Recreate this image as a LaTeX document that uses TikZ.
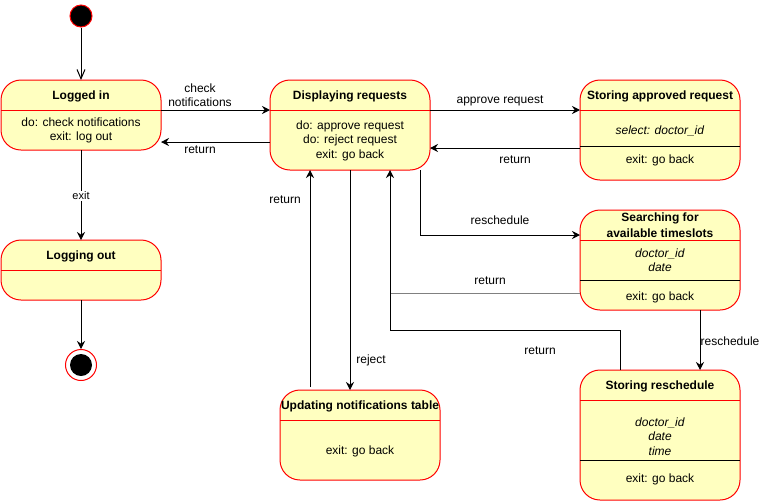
\documentclass[tikz,border=0pt]{standalone}
\usepackage{fontspec}
\setmainfont{Liberation Sans}
\usetikzlibrary{arrows.meta,calc}
\definecolor{stfill}{HTML}{FFFFC0}
\definecolor{linegray}{HTML}{808080}
\begin{document}
\begin{tikzpicture}[x=0.75pt,y=-0.75pt,
  state/.style={draw=red, fill=stfill, rounded corners=15pt, minimum width=120pt, inner sep=0pt, outer sep=0pt, line width=0.75pt},
  txt/.style={font=\fontsize{9}{10.9}\selectfont, align=center, inner sep=0pt},
  ttl/.style={font=\fontsize{9}{12}\selectfont\bfseries, align=center, inner sep=0pt},
  lbl/.style={font=\fontsize{9}{10.5}\selectfont, align=center, inner sep=0pt},
  hdiv/.style={draw=red, line width=0.75pt},
  sdiv/.style={draw=black, line width=0.75pt},
  arr/.style={draw=black, line width=0.75pt, -{Stealth[length=6pt,width=6pt,inset=2pt]}},
  openarr/.style={draw=black, line width=0.75pt, -{Straight Barb[length=7pt,width=6pt]}}
]
\fill[white] (0,0) rectangle (766,501);
\useasboundingbox (0,0) rectangle (766,501);

% initial and final states
\node[circle, fill=black, draw=red, line width=0.75pt, minimum size=16.5pt, inner sep=0pt] (start) at (81,16) {};
\node[circle, fill=white, draw=red, line width=0.75pt, minimum size=23.25pt, inner sep=0pt] (end) at (81,365) {};
\node[circle, fill=black, minimum size=16.5pt, inner sep=0pt] (endin) at (81,365) {};

% states
\node[state, minimum height=52.5pt] (li) at (81,115) {};
\node[state, minimum height=45pt] (lo) at (81,270) {};
\node[state, minimum height=67.5pt] (dr) at (350,125) {};
\node[state, minimum height=75pt] (sa) at (660,130) {};
\node[state, minimum height=75pt] (sf) at (660,260) {};
\node[state, minimum height=67.5pt] (un) at (360,435) {};
\node[state, minimum height=97.5pt] (sr) at (660,435) {};

% dividers
\draw[hdiv] ($(li.north west)+(0,30)$) -- ($(li.north east)+(0,30)$);
\draw[hdiv] ($(lo.north west)+(0,30)$) -- ($(lo.north east)+(0,30)$);
\draw[hdiv] ($(dr.north west)+(0,30)$) -- ($(dr.north east)+(0,30)$);
\draw[hdiv] ($(sa.north west)+(0,30)$) -- ($(sa.north east)+(0,30)$);
\draw[sdiv] ($(sa.north west)+(0,66)$) -- ($(sa.north east)+(0,66)$);
\draw[hdiv] ($(sf.north west)+(0,30)$) -- ($(sf.north east)+(0,30)$);
\draw[sdiv] ($(sf.north west)+(0,70)$) -- ($(sf.north east)+(0,70)$);
\draw[hdiv] ($(un.north west)+(0,30)$) -- ($(un.north east)+(0,30)$);
\draw[hdiv] ($(sr.north west)+(0,30)$) -- ($(sr.north east)+(0,30)$);
\draw[sdiv] ($(sr.north west)+(0,90)$) -- ($(sr.north east)+(0,90)$);

% texts
\node[ttl] (li-t) at (81,96) {Logged in};
\node[txt] (li-b) at (81,130.5) {do: check notifications\\exit: log out};
\node[ttl] (lo-t) at (81,256) {Logging out};
\node[ttl] (dr-t) at (350,96) {Displaying requests};
\node[txt] (dr-b) at (350,140.5) {do: approve request\\do: reject request\\exit: go back};
\node[ttl] (sa-t) at (660,96) {Storing approved request};
\node[txt] (sa-b) at (660,131) {\textit{select: doctor\_id}};
\node[txt] (sa-x) at (660,160) {exit: go back};
\node[ttl] (sf-t) at (660,225) {Searching for\\available timeslots};
\node[txt] (sf-b) at (660,260) {\textit{doctor\_id}\\\textit{date}};
\node[txt] (sf-x) at (660,297) {exit: go back};
\node[ttl] (un-t) at (360,406) {Updating notifications table};
\node[txt] (un-x) at (360,451) {exit: go back};
\node[ttl] (sr-t) at (660,386) {Storing reschedule};
\node[txt] (sr-b) at (660,436.5) {\textit{doctor\_id}\\\textit{date}\\\textit{time}};
\node[txt] (sr-x) at (660,479) {exit: go back};

% helper coordinates
\coordinate (drj) at ($(dr.south west)+(120,0)$);
\coordinate (sfret) at ($(sf.north west)+(0,83)$);
\coordinate (srret) at ($(sr.north west)+(40,0)$);
\coordinate (srbend) at ($(dr.south west)+(120,160)$);

% connectors
\draw[openarr] (start) -- (li);
\draw[arr] ($(li.north east)+(0,30)$) -- ($(dr.north west)+(0,30)$);
\node[lbl] (l-check) at (200,95) {check\\notifications};
\draw[arr] ($(dr.north west)+(0,62)$) -- ($(li.north east)+(0,62)$);
\node[lbl] (l-ret1) at (200,150) {return};
\draw[arr] (li) -- (lo);
\node[lbl, font=\fontsize{8.25}{10}\selectfont, fill=white, inner sep=1pt] (l-exit) at (81,196) {exit};
\draw[arr] (lo) -- (end);

\draw[arr] ($(dr.north east)+(0,30)$) -- ($(sa.north west)+(0,30)$);
\node[lbl] (l-appr) at (500,101) {approve request};
\draw[arr] ($(sa.north west)+(0,68)$) -- ($(dr.north east)+(0,68)$);
\node[lbl] (l-ret2) at (515,160) {return};

\draw[arr] ($(dr.south east)+(-10,0)$) |- ($(sf.north west)+(0,25)$);
\node[lbl] (l-resch1) at (500,220) {reschedule};

\draw[draw=linegray, line width=0.75pt] (sfret) -- (sfret -| drj);
\node[lbl] (l-ret3) at (490,281) {return};

\draw[arr] (srret) |- (srbend) -- (drj);
\node[lbl] (l-ret4) at (540,351) {return};

\draw[arr] ($(dr.south west)+(80,0)$) -- ($(un.north west)+(70,0)$);
\node[lbl] (l-rej) at (371,360) {reject};

\draw[arr] ($(un.north west)+(30,-3)$) -- ($(dr.south west)+(40,0)$);
\node[lbl] (l-ret5) at (285,200) {return};

\draw[arr] ($(sf.south west)+(120,0)$) -- ($(sr.north west)+(120,0)$);
\node[lbl] (l-resch2) at (730,341) {reschedule};
\end{tikzpicture}
\end{document}
